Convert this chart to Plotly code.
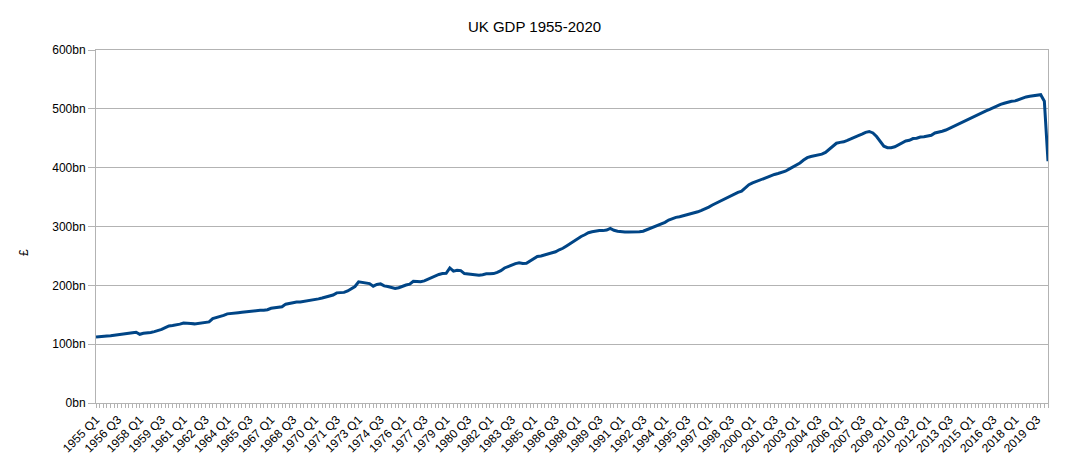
import plotly.graph_objects as go

years = list(range(1955, 2021))

# Quarterly GDP (£bn), 1955 Q1 .. 2020 Q2
gdp = [
    112.0, 113.0, 113.5, 114.0,   # 1955
    114.5, 115.5, 115.5, 116.8,   # 1956
    117.5, 118.5, 119.5, 120.2,   # 1957
    116.8, 118.5, 119.0, 120.0,   # 1958
    121.3, 122.5, 125.0, 128.0,   # 1959
    131.0, 131.8, 132.5, 134.0,   # 1960
    136.0, 136.0, 135.0, 134.5,   # 1961
    135.5, 136.5, 137.5, 137.9,   # 1962
    143.5, 145.0, 147.0, 149.0,   # 1963
    151.5, 152.5, 153.0, 153.5,   # 1964
    154.2, 155.0, 156.0, 156.5,   # 1965
    157.0, 157.5, 157.6, 158.5,   # 1966
    161.0, 162.0, 162.5, 163.5,   # 1967
    168.0, 169.5, 170.5, 171.5,   # 1968
    171.5, 172.5, 173.5, 174.0,   # 1969
    175.8, 177.0, 178.5, 180.0,   # 1970
    181.0, 183.5, 187.2, 187.5,   # 1971
    188.0, 190.5, 194.0, 198.0,   # 1972
    206.0, 205.0, 204.5, 203.0,   # 1973
    198.5, 201.5, 202.5, 199.0,   # 1974
    198.0, 195.7, 194.6, 196.0,   # 1975
    198.5, 200.5, 202.0, 207.0,   # 1976
    206.5, 206.0, 207.5, 210.5,   # 1977
    212.5, 215.5, 218.5, 220.0,   # 1978
    220.5, 229.5, 224.0, 225.5,   # 1979
    225.0, 220.0, 219.0, 218.0,   # 1980
    217.0, 217.0, 218.0, 219.5,   # 1981
    219.5, 220.0, 222.0, 225.0,   # 1982
    229.5, 232.0, 235.0, 237.0,   # 1983
    238.5, 237.0, 237.5, 241.5,   # 1984
    246.5, 249.0, 250.0, 252.0,   # 1985
    253.5, 255.0, 257.0, 260.5,   # 1986
    263.0, 267.0, 271.0, 275.0,   # 1987
    279.5, 283.0, 286.0, 289.4,   # 1988
    291.0, 292.5, 293.0, 293.0,   # 1989
    294.0, 296.7, 293.5, 292.0,   # 1990
    291.0, 290.5, 290.5, 290.5,   # 1991
    290.5, 291.0, 292.0, 294.5,   # 1992
    296.5, 298.5, 301.0, 303.5,   # 1993
    307.0, 311.0, 313.5, 315.5,   # 1994
    316.5, 318.0, 320.0, 321.5,   # 1995
    323.0, 325.0, 327.5, 330.0,   # 1996
    333.0, 336.5, 339.5, 342.5,   # 1997
    345.5, 348.5, 352.0, 355.5,   # 1998
    358.0, 360.0, 365.0, 371.0,   # 1999
    374.0, 376.5, 378.5, 381.0,   # 2000
    384.0, 386.5, 388.5, 390.0,   # 2001
    391.5, 394.0, 397.5, 401.0,   # 2002
    404.0, 408.0, 413.0, 417.0,   # 2003
    419.0, 420.0, 421.5, 423.0,   # 2004
    426.0, 431.0, 436.5, 441.5,   # 2005
    443.0, 444.0, 446.5, 449.5,   # 2006
    452.0, 454.5, 457.0, 460.0,   # 2007
    461.5, 459.0, 453.0, 445.0,   # 2008
    436.5, 434.0, 434.0, 435.5,   # 2009
    438.5, 442.0, 445.5, 446.5,   # 2010
    449.5, 450.0, 452.0, 452.5,   # 2011
    454.0, 455.0, 459.0, 460.0,   # 2012
    462.0, 464.0, 467.0, 470.0,   # 2013
    473.0, 476.5, 479.5, 482.5,   # 2014
    485.5, 488.5, 491.5, 494.5,   # 2015
    496.5, 499.0, 502.0, 505.0,   # 2016
    507.5, 509.5, 511.5, 513.0,   # 2017
    513.5, 516.0, 518.5, 520.2,   # 2018
    521.5, 522.0, 523.0, 524.0,   # 2019
    513.0, 411.0,                 # 2020
]

quarters = [f"{y} Q{q}" for y in years for q in range(1, 5)][: len(gdp)]
tick_idx = list(range(0, len(gdp), 6))
tick_text = [quarters[i] for i in tick_idx]
x_idx = list(range(len(gdp)))

fig = go.Figure()
fig.add_trace(go.Scatter(
    x=x_idx, y=gdp, mode="lines",
    line=dict(color="#004586", width=3),
    text=quarters, hovertemplate="%{text}: £%{y}bn<extra></extra>",
))

grid = "#b3b3b3"
fig.update_layout(
    width=1053, height=452,
    paper_bgcolor="white", plot_bgcolor="white",
    margin=dict(l=88, r=13, t=42, b=57, autoexpand=False),
    font=dict(family="Liberation Sans, Arial, sans-serif", size=12, color="#000000"),
    title=dict(text="UK GDP 1955-2020", x=0.5, xanchor="center", y=0.958, yanchor="middle",
               font=dict(size=15, color="#000000")),
    showlegend=False,
    annotations=[dict(
        text="£", xref="paper", yref="paper", x=-0.0756, y=0.425,
        xanchor="center", yanchor="middle", textangle=-90, showarrow=False,
        font=dict(size=12, color="#000000"),
    )],
)
fig.update_xaxes(
    range=[0, len(gdp) - 1], automargin=False,
    tickmode="array", tickvals=tick_idx, ticktext=tick_text,
    tickangle=-45, tickfont=dict(size=12),
    ticks="outside", ticklen=4, tickcolor=grid,
    minor=dict(dtick=1, tick0=0, ticks="outside", ticklen=4, tickcolor=grid, showgrid=False),
    showgrid=False, showline=True, linecolor=grid, linewidth=1, mirror=True,
    zeroline=False,
)
fig.update_yaxes(
    range=[0, 600], dtick=100, ticksuffix="bn", automargin=False,
    ticks="outside", ticklen=7, tickcolor=grid,
    showgrid=True, gridcolor=grid, gridwidth=1,
    showline=True, linecolor=grid, linewidth=1, mirror=True,
    zeroline=False, tickfont=dict(size=12),
)

fig.write_html("out.html")
